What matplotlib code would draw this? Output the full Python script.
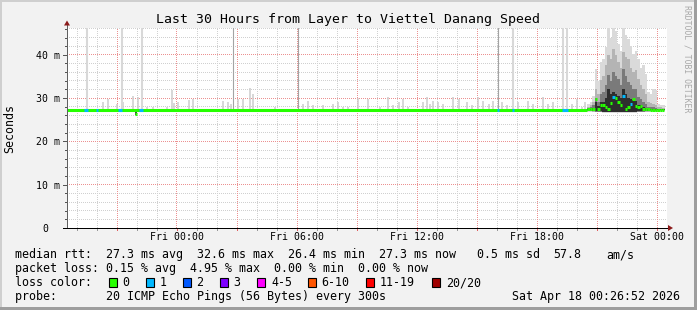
import numpy as np
import matplotlib
matplotlib.use("Agg")
import matplotlib.pyplot as plt
from matplotlib.patches import Rectangle, Polygon
from matplotlib.lines import Line2D
from matplotlib.transforms import offset_copy

W, H, DPI = 697, 310, 100
MONO = "DejaVu Sans Mono"

# ---------------- data ----------------
title = "Last 30 Hours from Layer to Viettel Danang Speed"
# x axis in hours since Thu 18:30
x_tick_hours = [5.5, 11.5, 17.5, 23.5, 29.5]
x_tick_labels = ["Fri 00:00", "Fri 06:00", "Fri 12:00", "Fri 18:00", "Sat 00:00"]
y_tick_values = [0, 10, 20, 30, 40]
y_tick_labels = ["0  ", "10 m", "20 m", "30 m", "40 m"]

loss_labels = ["0", "1", "2", "3", "4-5", "6-10", "11-19", "20/20"]
loss_colors = ["#26ff00", "#00b8ff", "#0059ff", "#7e00ff",
               "#ff00ff", "#ff5500", "#ff0000", "#a00000"]

base_median = 27.3
quiet_end = 26.0
data_end = 29.85

# median segments with loss (start h, end h, value, loss index)
seg_start = [0.85, 1.45, 2.55, 3.40, 3.60, 21.50, 22.25, 24.75]
seg_end   = [1.05, 1.55, 2.75, 3.50, 3.80, 21.60, 22.35, 25.05]
seg_value = [27.3, 27.3, 27.3, 26.4, 27.3, 27.3, 27.3, 27.3]
seg_loss  = [1, 1, 1, 0, 1, 1, 1, 1]

# tall spikes (max ping) reaching the top
tall_h   = [0.975, 2.75, 3.75, 8.30, 11.55, 21.55, 22.30, 24.82, 25.00]
tall_top = [52.0, 52.0, 52.0, 52.0, 52.0, 52.0, 52.0, 52.0, 52.0]
tall_dark = [0, 0, 0, 1, 1, 1, 0, 0, 0]

# small smoke spikes in the quiet period
spike_h = [1.80, 2.05, 2.50, 2.80, 3.30, 3.55, 4.00, 4.30, 5.00, 5.25, 5.35, 5.55,
           6.10, 6.30, 7.80, 8.05, 8.22, 8.55, 8.80, 9.15, 9.30, 10.40, 11.80,
           12.05, 12.30, 12.80, 13.30, 13.55, 13.80, 14.05, 14.55, 15.05, 15.65,
           16.05, 16.30, 16.60, 16.80, 17.05, 17.80, 18.00, 18.15, 18.30, 18.55,
           18.80, 19.30, 19.60, 20.00, 20.25, 20.55, 20.80, 21.10, 21.30, 21.75,
           22.00, 22.55, 23.05, 23.30, 23.80, 24.05, 24.30, 25.25, 25.50, 25.75,
           25.90]
spike_top = [29.1, 29.8, 28.7, 29.1, 30.5, 30.2, 27.9, 27.9, 27.9, 31.8, 28.8, 29.1,
             29.5, 29.8, 29.3, 29.1, 28.7, 29.8, 29.8, 32.4, 31.0, 27.9, 28.7,
             29.3, 28.3, 28.3, 28.7, 29.1, 27.9, 27.9, 30.0, 29.9, 27.9,
             30.2, 28.3, 29.1, 29.8, 27.9, 29.1, 30.2, 28.7, 29.3, 29.1,
             28.7, 30.2, 29.9, 29.1, 28.3, 30.2, 29.3, 28.7, 29.3, 29.1,
             28.3, 29.1, 29.3, 28.7, 30.2, 28.7, 29.1, 28.7, 29.9, 27.9,
             29.1]

# heavy smoke period (bins of 7.5 min)
hv_h = [26.000, 26.125, 26.250, 26.375, 26.500, 26.625, 26.750, 26.875,
        27.000, 27.125, 27.250, 27.375, 27.500, 27.625, 27.750, 27.875,
        28.000, 28.125, 28.250, 28.375, 28.500, 28.625, 28.750, 28.875,
        29.000, 29.125, 29.250, 29.375, 29.500, 29.625, 29.750]
hv_max = [28.6, 29.1, 30.5, 36.8, 34.0, 38.3, 39.0, 41.8,
          52.0, 44.0, 52.0, 45.5, 42.6, 41.0, 52.0, 44.5,
          43.7, 42.0, 40.3, 41.0, 39.1, 37.0, 37.6, 35.6,
          31.4, 31.0, 32.2, 31.8, 28.7, 28.5, 28.4]
hv_p90 = [28.0, 28.3, 29.0, 32.2, 31.0, 34.2, 35.0, 37.6,
          40.0, 39.0, 41.4, 40.0, 38.3, 37.0, 40.6, 39.5,
          39.1, 37.0, 36.0, 36.5, 34.5, 33.0, 32.2, 31.0,
          29.1, 28.8, 28.7, 28.5, 28.0, 27.9, 27.8]
hv_p75 = [27.7, 27.9, 28.3, 30.0, 29.0, 31.0, 31.5, 33.0,
          35.3, 34.0, 36.0, 35.0, 34.5, 33.0, 36.8, 35.0,
          33.7, 33.0, 32.2, 32.0, 30.2, 29.8, 29.1, 28.6,
          28.0, 27.9, 27.9, 27.8, 27.6, 27.6, 27.5]
hv_p60 = [27.5, 27.6, 27.8, 29.0, 28.2, 29.0, 29.2, 30.0,
          32.2, 31.0, 31.5, 31.0, 30.5, 30.0, 32.2, 31.0,
          30.0, 29.8, 29.5, 29.3, 28.5, 28.3, 28.0, 27.8,
          27.6, 27.5, 27.5, 27.5, 27.4, 27.4, 27.4]
hv_min = [26.9, 26.9, 26.8, 26.7, 26.7, 26.7, 26.6, 26.6,
          26.6, 26.6, 26.6, 26.6, 26.6, 26.6, 26.6, 26.6,
          26.6, 26.6, 26.6, 26.6, 26.7, 26.7, 26.7, 26.8,
          26.8, 26.9, 26.9, 26.9, 27.0, 27.0, 27.0]
hv_med = [27.4, 27.5, 27.6, 29.8, 27.6, 28.5, 28.5, 28.0,
          27.6, 28.8, 30.2, 30.0, 29.0, 28.3, 30.5, 27.6,
          28.0, 28.7, 29.8, 28.2, 27.9, 28.2, 27.6, 27.4,
          27.4, 27.3, 27.3, 27.3, 27.3, 27.3, 27.3]
hv_loss = [0, 0, 0, 0, 0, 0, 0, 0,
           0, 0, 1, 0, 0, 0, 1, 0,
           0, 1, 0, 0, 0, 0, 0, 0,
           0, 0, 0, 0, 0, 0, 0]
hv_step = 0.125

legend_row1 = "median rtt:  27.3 ms avg  32.6 ms max  26.4 ms min  27.3 ms now   0.5 ms sd"
legend_sd_val = "57.8"
legend_unit = "am/s"
legend_row2 = "packet loss: 0.15 % avg  4.95 % max  0.00 % min  0.00 % now"
legend_row3 = "loss color:"
legend_row4 = "probe:       20 ICMP Echo Pings (56 Bytes) every 300s"
legend_date = "Sat Apr 18 00:26:52 2026"
side_text = "RRDTOOL / TOBI OETIKER"
y_label = "Seconds"

# ---------------- layout helpers ----------------
def fx(px):
    return px / W

def fy(py):
    return 1 - py / H

fig = plt.figure(figsize=(W / DPI, H / DPI), dpi=DPI, facecolor="#f2f2f2")

# 3D border
fig.add_artist(Rectangle((fx(0), fy(2)), fx(697), 2 / H, transform=fig.transFigure,
                         facecolor="#cfcfcf", edgecolor="none"))
fig.add_artist(Rectangle((fx(0), fy(310)), fx(2), 1, transform=fig.transFigure,
                         facecolor="#cfcfcf", edgecolor="none"))
fig.add_artist(Rectangle((fx(694), fy(310)), fx(3), 1, transform=fig.transFigure,
                         facecolor="#9e9e9e", edgecolor="none"))
fig.add_artist(Rectangle((fx(0), fy(310)), 1, 3 / H, transform=fig.transFigure,
                         facecolor="#9e9e9e", edgecolor="none"))

AX_L, AX_T, AX_W, AX_H = 67, 28, 600, 200
XMAX, YMAX = 30.0, 46.2
ax = fig.add_axes([fx(AX_L), fy(AX_T + AX_H), AX_W / W, AX_H / H])
ax.set_facecolor("white")
ax.set_xlim(0, XMAX)
ax.set_ylim(0, YMAX)
for s in ax.spines.values():
    s.set_visible(False)

# grid: pixel-exact dotted lines rendered as an image layer
minor_rgba = np.array([208, 208, 208, 255]) / 255.0
major_rgba = np.array([236, 145, 145, 255]) / 255.0
grid_img = np.zeros((AX_H, AX_W, 4))
cols_dot = np.arange(0, AX_W, 2)
rows_dot = np.arange(1, AX_H, 2)

def row_of(v):
    return int(np.clip(np.floor((YMAX - v) / YMAX * AX_H), 0, AX_H - 1))

def col_of(h):
    return int(np.clip(np.floor(h / XMAX * AX_W), 0, AX_W - 1))

for v in np.arange(2, YMAX, 2):
    if round(v) % 10 != 0:
        grid_img[row_of(v), cols_dot, :] = minor_rgba
for h in np.arange(0.5, XMAX, 1.0):
    if round(h - 2.5) % 3 != 0:
        grid_img[rows_dot, col_of(h), :] = minor_rgba
for v in y_tick_values[1:]:
    grid_img[row_of(v), cols_dot, :] = major_rgba
for h in np.arange(2.5, XMAX, 3.0):
    grid_img[rows_dot, col_of(h), :] = major_rgba
ax.imshow(grid_img, extent=[0, XMAX, 0, YMAX], aspect="auto",
          interpolation="nearest", resample=False, zorder=0.5)

# quiet smoke spikes
ax.vlines(spike_h, base_median, spike_top, color="#cdcdcd", lw=1.1, zorder=1)
for h, t, d in zip(tall_h, tall_top, tall_dark):
    if d:
        ax.vlines(h, base_median, t, color="#a4a4a4", lw=0.8, zorder=1.1)
    else:
        ax.vlines(h, base_median, t, color="#d8d8d8", lw=1.5, zorder=1)

# heavy smoke
hv_min_a = np.array(hv_min)
ax.bar(hv_h, np.array(hv_max) - hv_min_a, bottom=hv_min_a, width=hv_step,
       align="edge", color="#dadada", lw=0, zorder=1.2)
ax.bar(hv_h, np.array(hv_p90) - hv_min_a - 0.1, bottom=hv_min_a + 0.1, width=hv_step,
       align="edge", color="#b4b4b4", lw=0, zorder=1.3)
ax.bar(hv_h, np.array(hv_p75) - hv_min_a - 0.2, bottom=hv_min_a + 0.2, width=hv_step,
       align="edge", color="#7a7a7a", lw=0, zorder=1.4)
ax.bar(hv_h, np.array(hv_p60) - hv_min_a - 0.3, bottom=hv_min_a + 0.3, width=hv_step,
       align="edge", color="#2e2e2e", lw=0, zorder=1.5)
# dip smoke
ax.vlines(3.45, 26.1, 27.3, color="#202020", lw=1.2, zorder=1.5)

# median line
LW = 2.2
ax.hlines(base_median, 0, quiet_end, color=loss_colors[0], lw=LW, zorder=3)
for s, e, v, l in zip(seg_start, seg_end, seg_value, seg_loss):
    ax.hlines(v, s, e, color=loss_colors[l], lw=LW, zorder=3.1)
for h, v, l in zip(hv_h, hv_med, hv_loss):
    ax.hlines(v, h, min(h + hv_step, data_end), color=loss_colors[l], lw=LW, zorder=3.1)

# ticks
ax.set_xticks([])
ax.set_yticks([])
yt = ax.get_yaxis_transform()
xt = ax.get_xaxis_transform()
for v in np.arange(0, YMAX, 2):
    ln = 4 if round(v) % 10 == 0 else 2
    tr = offset_copy(yt, fig=fig, x=-ln, y=0, units="dots")
    ax.add_line(Line2D([0, ln / AX_W], [v, v], transform=tr, color="#555555",
                       lw=0.72, clip_on=False, zorder=5, antialiased=False))
for h in np.arange(0.5, XMAX, 1.0):
    major = round(h - 2.5) % 3 == 0
    tr = offset_copy(xt, fig=fig, x=0, y=-2, units="dots")
    ax.add_line(Line2D([h, h], [0, 2 / AX_H], transform=tr,
                       color="#e06060" if major else "#999999", lw=0.72,
                       clip_on=False, zorder=5, antialiased=False))

# axes lines + arrows (axes coordinates)
ax.add_line(Line2D([0, 0], [0, 1 + 3 / AX_H], transform=ax.transAxes,
                   color="#606060", lw=0.72, clip_on=False, zorder=6, antialiased=False))
ax.add_line(Line2D([-4 / AX_W, 1 + 2 / AX_W], [0, 0], transform=ax.transAxes,
                   color="black", lw=0.72, clip_on=False, zorder=6, antialiased=False))
ax.add_patch(Polygon([[-3 / AX_W, 1 + 2.5 / AX_H], [3 / AX_W, 1 + 2.5 / AX_H],
                      [0, 1 + 7.5 / AX_H]], closed=True, transform=ax.transAxes,
                     facecolor="#8b1a1a", edgecolor="none", clip_on=False, zorder=7))
ax.add_patch(Polygon([[1 + 1 / AX_W, 3 / AX_H], [1 + 1 / AX_W, -3 / AX_H],
                      [1 + 6 / AX_W, 0]], closed=True, transform=ax.transAxes,
                     facecolor="#8b1a1a", edgecolor="none", clip_on=False, zorder=7))

# tick labels
TICK_FS = 7.08
for v, lab in zip(y_tick_values, y_tick_labels):
    trail = len(lab) - len(lab.rstrip())
    tr = offset_copy(yt, fig=fig, x=-6.5 - 5.92 * trail, y=-4.0, units="dots")
    ax.text(0, v, lab.rstrip(), transform=tr, ha="right", va="baseline",
            fontsize=TICK_FS, family=MONO, color="black")
for h, lab in zip(x_tick_hours, x_tick_labels):
    tr = offset_copy(xt, fig=fig, x=0, y=-11.5, units="dots")
    ax.text(h, 0, lab, transform=tr, ha="center", va="baseline",
            fontsize=TICK_FS, family=MONO, color="black")

# title, y label, side text
fig.text(fx(348.5), fy(23.5), title, ha="center", va="baseline",
         fontsize=9.57, family=MONO, color="black")
fig.text(fx(10), fy(128.5), y_label, ha="center", va="center", rotation=90,
         fontsize=8.42, family=MONO, color="black")
fig.text(fx(687.5), fy(59), side_text, ha="center", va="center", rotation=270,
         fontsize=5.9, family=MONO, color="#a8a8a8")

# legend
LFS = 8.42
fig.text(fx(15.0), fy(258), legend_row1, ha="left", va="baseline", fontsize=LFS, family=MONO)
fig.text(fx(553.2), fy(258), legend_sd_val, ha="left", va="baseline", fontsize=LFS, family=MONO)
fig.text(fx(606.6), fy(258), legend_unit, ha="left", va="baseline", fontsize=LFS, family=MONO)
fig.text(fx(15.0), fy(272), legend_row2, ha="left", va="baseline", fontsize=LFS, family=MONO)
fig.text(fx(15.0), fy(286), legend_row3, ha="left", va="baseline", fontsize=LFS, family=MONO)
fig.text(fx(15.0), fy(300), legend_row4, ha="left", va="baseline", fontsize=LFS, family=MONO)
fig.text(fx(680.5), fy(300), legend_date, ha="right", va="baseline", fontsize=LFS, family=MONO)

box_x = [108.3, 145.0, 182.3, 219.0, 256.7, 307.3, 365.7, 431.7]
for bx, col, lab in zip(box_x, loss_colors, loss_labels):
    fig.add_artist(Rectangle((fx(bx + 0.5), fy(286.8)), 8 / W, 9 / H, transform=fig.transFigure,
                             facecolor=col, edgecolor="black", lw=0.8))
    fig.text(fx(bx + 14.3), fy(286), lab, ha="left", va="baseline", fontsize=LFS, family=MONO)

fig.savefig("out.png", dpi=DPI, facecolor=fig.get_facecolor())
